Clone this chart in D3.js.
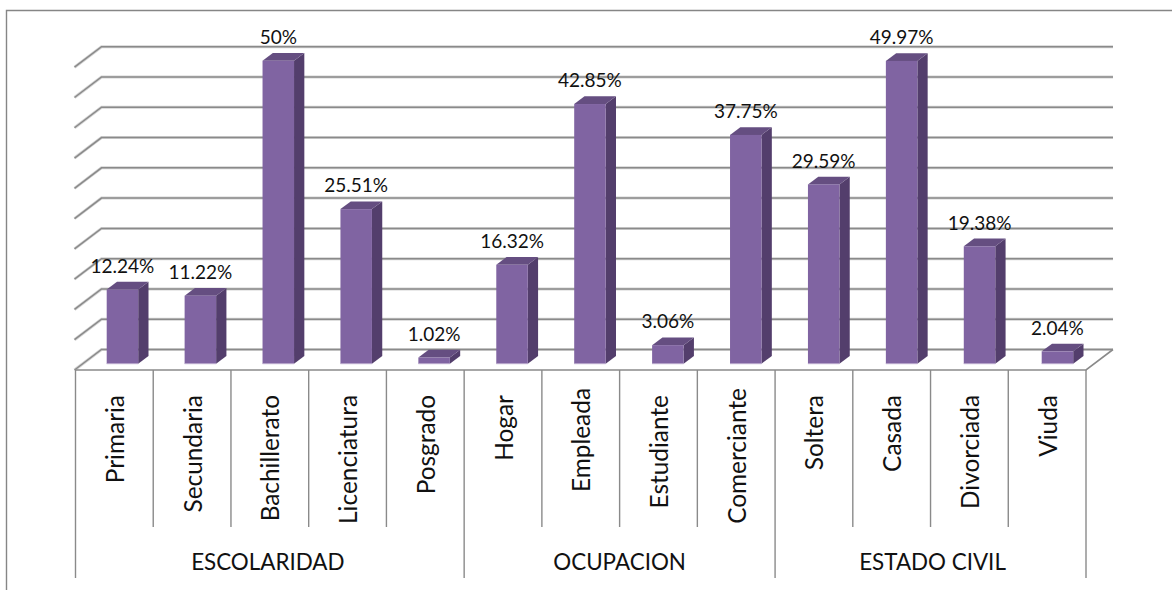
<!DOCTYPE html>
<html><head><meta charset="utf-8">
<script src="https://cdn.jsdelivr.net/npm/d3@7/dist/d3.min.js"></script>
<style>html,body{margin:0;padding:0;background:#fff}svg{display:block}text{font-family:Lato,"Open Sans",sans-serif;fill:#111}</style>
</head><body><svg id="c" width="1172" height="590"></svg>
<script>
const categories=["Primaria","Secundaria","Bachillerato","Licenciatura","Posgrado","Hogar","Empleada","Estudiante","Comerciante","Soltera","Casada","Divorciada","Viuda"];
const values=[12.24,11.22,50,25.51,1.02,16.32,42.85,3.06,37.75,29.59,49.97,19.38,2.04];
const labels=["12.24%","11.22%","50%","25.51%","1.02%","16.32%","42.85%","3.06%","37.75%","29.59%","49.97%","19.38%","2.04%"];
const groups=["ESCOLARIDAD","OCUPACION","ESTADO CIVIL"];
const groupSizes=[5,4,4];
const gridTicks=[0,5,10,15,20,25,30,35,40,45,50];
const raisedLabels=["Empleada","Comerciante"];

const svg=d3.select("#c");
const x0=75.5,x1=1086,floorY=370,dx=27,dy=20.5;
const x=d3.scaleBand().domain(d3.range(categories.length)).range([x0,x1]);
const xb=d3.scalePoint().domain(d3.range(categories.length)).range([106.7,1041.7]);
const y=d3.scaleLinear().domain([0,50]).range([363.7,60.7]);
const gy=d3.scaleLinear().domain([0,50]).range([349.5,46.7]);
const grey="#8a8a8a";

// frame
svg.append("path").attr("d","M6.5,590V10.5H1172").attr("fill","none").attr("stroke","#868686").attr("stroke-width",1.4);

// gridlines
gridTicks.forEach(t=>{
  const Y=gy(t);
  const d=`M${x0-1},${Y+dy}L${x0+dx-1},${Y}H${x1+dx}`;
  svg.append("path").attr("d",d).attr("fill","none").attr("stroke","#d4d4d4").attr("stroke-width",3);
  svg.append("path").attr("d",d).attr("fill","none").attr("stroke",grey).attr("stroke-width",1.5);
});
// floor
svg.append("path").attr("d",`M${x0},${floorY}H${x1}L${x1+dx},${gy(0)}`).attr("fill","none").attr("stroke",grey).attr("stroke-width",1.6);

// axis separators
d3.range(categories.length+1).forEach(i=>{
  const X=x0+i*x.step();
  svg.append("line").attr("x1",X).attr("x2",X).attr("y1",floorY).attr("y2",527).attr("stroke",grey).attr("stroke-width",1.4);
});
let acc=0;
[0,...groupSizes].forEach(n=>{
  acc+=n;
  const X=x0+acc*x.step();
  svg.append("line").attr("x1",X).attr("x2",X).attr("y1",527).attr("y2",578).attr("stroke",grey).attr("stroke-width",1.4);
});

// bars
const bw=31.5,bdx=10.3,bdy=7.7;
values.forEach((v,i)=>{
  const l=xb(i), r=l+bw, t=y(v), b=y(0);
  const g=svg.append("g");
  g.append("path").attr("d",`M${r},${t}l${bdx},${-bdy}V${b-bdy}L${r},${b}Z`).attr("fill","#533E6C");
  g.append("path").attr("d",`M${l},${t}l${bdx},${-bdy}H${r+bdx}L${r},${t}Z`).attr("fill","#654E81");
  g.append("rect").attr("x",l).attr("y",t).attr("width",bw).attr("height",b-t).attr("fill","#8064A2");
  g.append("path").attr("d",`M${l},${b}H${r}`).attr("stroke","#b9a8cc").attr("stroke-width",1);
  svg.append("text").attr("x",l+bw/2).attr("y",t-bdy-9).attr("text-anchor","middle").attr("font-size",19).text(labels[i]);
});

// category labels
categories.forEach((c,i)=>{
  const X=x(i)+x.step()/2+9.5;
  const top=raisedLabels.includes(c)?388:395;
  svg.append("text").attr("transform",`translate(${X},${top}) rotate(-90)`).attr("text-anchor","end").attr("font-size",24.4).text(c);
});
// group labels
acc=0;
groups.forEach((g,i)=>{
  const a=x0+acc*x.step(); acc+=groupSizes[i]; const b=x0+acc*x.step();
  svg.append("text").attr("x",(a+b)/2+(i-1)*2).attr("y",570).attr("text-anchor","middle").attr("font-size",22.4).text(g);
});
</script></body></html>
